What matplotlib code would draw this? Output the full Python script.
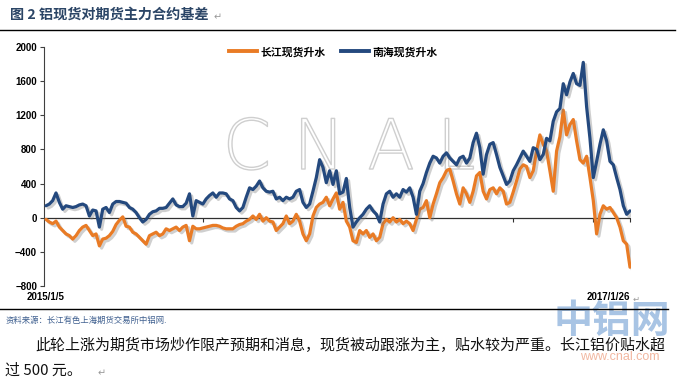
import matplotlib
matplotlib.use('Agg')
import matplotlib.pyplot as plt
from matplotlib import patheffects as pe
from matplotlib.lines import Line2D
import numpy as np

plt.rcParams['font.family'] = ['Noto Sans CJK SC', 'DejaVu Sans']

# ---- data ----
series_names = ["长江现货升水", "南海现货升水"]
x_labels = ["2015/1/5", "2017/1/26"]

changjiang = [
    -20, -50, -70, -40, -110, -150, -190, -210, -250, -210, -150, -110, -90, -150, -210, -190,
    -330, -250, -240, -210, -160, -80, -30, 10, -100, -110, -170, -190, -230, -270, -310,
    -210, -190, -170, -210, -190, -130, -150, -130, -110, -150, -110, -90, -270, -100, -130,
    -130, -120, -110, -100, -90, -90, -100, -120, -130, -130, -130, -100, -80, -70, -40,
    -20, 20, -20, 40, -40, 0, -40, -50, -150, -110, -70, 20, -70, -40, 40,
    -40, -190, -270, -190, 20, 120, 160, 180, 240, 140, 220, 290, 100, 180, -40,
    -110, -270, -290, -150, -190, -150, -230, -190, -270, -230, -70, -20, -50, 0, -50,
    -20, -70, -40, -70, -150, -20, 100, 120, 200, 0, 160, 280, 410, 470, 550,
    570, 430, 280, 160, 350, 280, 180, 310, 490, 530, 310, 220, 330, 350, 280,
    350, 310, 160, 180, 300, 430, 570, 620, 600, 470, 550, 780, 970, 860, 780,
    550, 310, 780, 950, 1260, 970, 1090, 1150, 900, 680, 640, 720, 470, 200, -190,
    40, 140, 100, 120, 60, 0, -110, -270, -310, -580,
]

nanhai = [
    140, 160, 200, 290, 180, 100, 140, 130, 120, 130, 150, 160, 140, 20, 90, 80,
    -110, 100, 120, 60, 160, 190, 190, 180, 170, 120, 100, 60, 0, -50, -20,
    40, 70, 80, 110, 110, 120, 170, 220, 150, 130, 130, 170, 280, 20, 200,
    180, 160, 220, 260, 290, 240, 290, 290, 280, 220, 200, 120, 80, 120, 240,
    350, 330, 370, 430, 350, 310, 300, 310, 220, 240, 200, 240, 220, 240, 310,
    330, 180, 120, 160, 310, 470, 680, 590, 410, 550, 390, 550, 280, 300, 460,
    120, -110, -50, 0, 40, 100, 140, 80, 40, -50, 160, 280, 310, 240, 280,
    240, 330, 300, 350, 240, 40, 310, 400, 530, 640, 720, 700, 640, 720, 760,
    700, 660, 620, 700, 720, 640, 700, 880, 990, 820, 510, 740, 860, 880, 740,
    590, 490, 390, 430, 550, 620, 700, 780, 720, 660, 820, 800, 680, 740, 930,
    900, 1130, 1240, 1280, 1570, 1440, 1590, 1690, 1570, 1550, 1820, 1300, 930, 470, 660,
    860, 1030, 900, 660, 620, 470, 330, 140, 40, 80,
]

orange = '#E97B25'
blue = '#24497E'

W, H = 692, 386
fig = plt.figure(figsize=(W / 100, H / 100), dpi=100)
fig.patch.set_facecolor('white')

ax = fig.add_axes([44 / W, 1 - 286 / H, (631 - 44) / W, (286 - 47) / H])
n = len(nanhai)
x = np.arange(n)

# watermark inside chart
ax.text(0.52, 0.57, "C N A L", transform=ax.transAxes, ha='center', va='center',
        fontsize=50, color=(1, 1, 1, 0), family='DejaVu Sans', fontweight='light',
        path_effects=[pe.withStroke(linewidth=1.0, foreground='#cfcfcf')], zorder=1)

ax.axhline(0, color='#303030', lw=0.9, zorder=2)

shadow = [pe.SimpleLineShadow(offset=(1.6, -1.6), shadow_color='#777777', alpha=0.35), pe.Normal()]
ax.plot(x, changjiang, color=orange, lw=2.3, path_effects=shadow, zorder=3,
        solid_joinstyle='round', solid_capstyle='round')
ax.plot(x, nanhai, color=blue, lw=2.3, path_effects=shadow, zorder=4,
        solid_joinstyle='round', solid_capstyle='round')

ax.set_ylim(-800, 2000)
ax.set_yticks(range(-800, 2001, 400))
ax.set_xlim(-0.6, n - 1 + 0.3)

for s in ['top', 'right', 'bottom']:
    ax.spines[s].set_visible(False)
ax.spines['left'].set_color('#404040')
ax.spines['left'].set_linewidth(0.8)

ax.tick_params(axis='y', length=3, width=0.8, direction='out', colors='#404040', pad=2)
for lbl in ax.get_yticklabels():
    lbl.set_fontweight('bold')
    lbl.set_fontsize(7)
    lbl.set_family('Liberation Sans')
    lbl.set_color('black')

ax.set_xticks([0, n - 1], x_labels)
ax.tick_params(axis='x', length=0, pad=4.5)
xl = ax.get_xticklabels()
for lbl in xl:
    lbl.set_fontweight('bold')
    lbl.set_fontsize(7)
    lbl.set_family('Liberation Sans')
xl[1].set_ha('right')

# small tick marks on the zero line
sec = ax.secondary_xaxis(800 / 2800)
sec.set_xticks([47, 140, 164, n - 1])
sec.tick_params(length=3, width=0.8, colors='#303030', labelbottom=False)
sec.spines['bottom'].set_visible(False)

# legend
handles = [Line2D([], [], color=orange, lw=2.8), Line2D([], [], color=blue, lw=2.8)]
fig.legend(handles, series_names, loc='center', bbox_to_anchor=(333 / W, 1 - 52 / H), ncol=2,
           frameon=False, handlelength=2.6, handletextpad=0.3, columnspacing=1.4,
           prop={'family': ['Noto Sans CJK SC', 'DejaVu Sans'], 'weight': 'bold', 'size': 7.8})

# document texts
fig.text(10 / W, 1 - 15 / H, "图 2 铝现货对期货主力合约基差", fontsize=10.2, fontweight='bold',
         color='#2b4566', va='center', ha='left')
fig.text(214 / W, 1 - 17 / H, "↵", fontsize=7, color='#999999', va='center', ha='left',
         family=['DejaVu Sans'])
fig.add_artist(Line2D([0, 675 / W], [1 - 30 / H, 1 - 30 / H], color='black', lw=1.0))
fig.text(633 / W, 1 - 299 / H, "↵", fontsize=6, color='#999999', va='center', ha='left',
         family=['DejaVu Sans'])
fig.add_artist(Line2D([0, 668 / W], [1 - 309 / H, 1 - 309 / H], color='black', lw=1.0))

# watermark bottom right
fig.text(612 / W, 1 - 322 / H, "中铝网", fontsize=28, fontweight='bold', color='#a8c4e4',
         va='center', ha='center', zorder=0)
fig.text(620 / W, 1 - 357 / H, "www.cnal.com", fontsize=9, color='#f2b7a0',
         va='center', ha='center', family=['Liberation Sans'], zorder=0)

fig.text(6 / W, 1 - 320 / H, "资料来源：长江有色上海期货交易所中铝网.", fontsize=6, color='#3e5f8f',
         va='center', ha='left')
fig.text(35 / W, 1 - 345 / H,
         "此轮上涨为期货市场炒作限产预期和消息，现货被动跟涨为主，贴水较为严重。长江铝价贴水超",
         fontsize=10.8, color='#111111', va='center', ha='left')
fig.text(5 / W, 1 - 371 / H, "过 500 元。", fontsize=10.8, color='#111111', va='center', ha='left')
fig.text(98 / W, 1 - 373 / H, "↵", fontsize=7, color='#999999', va='center', ha='left',
         family=['DejaVu Sans'])

fig.savefig('out.png', dpi=100, facecolor='white')
